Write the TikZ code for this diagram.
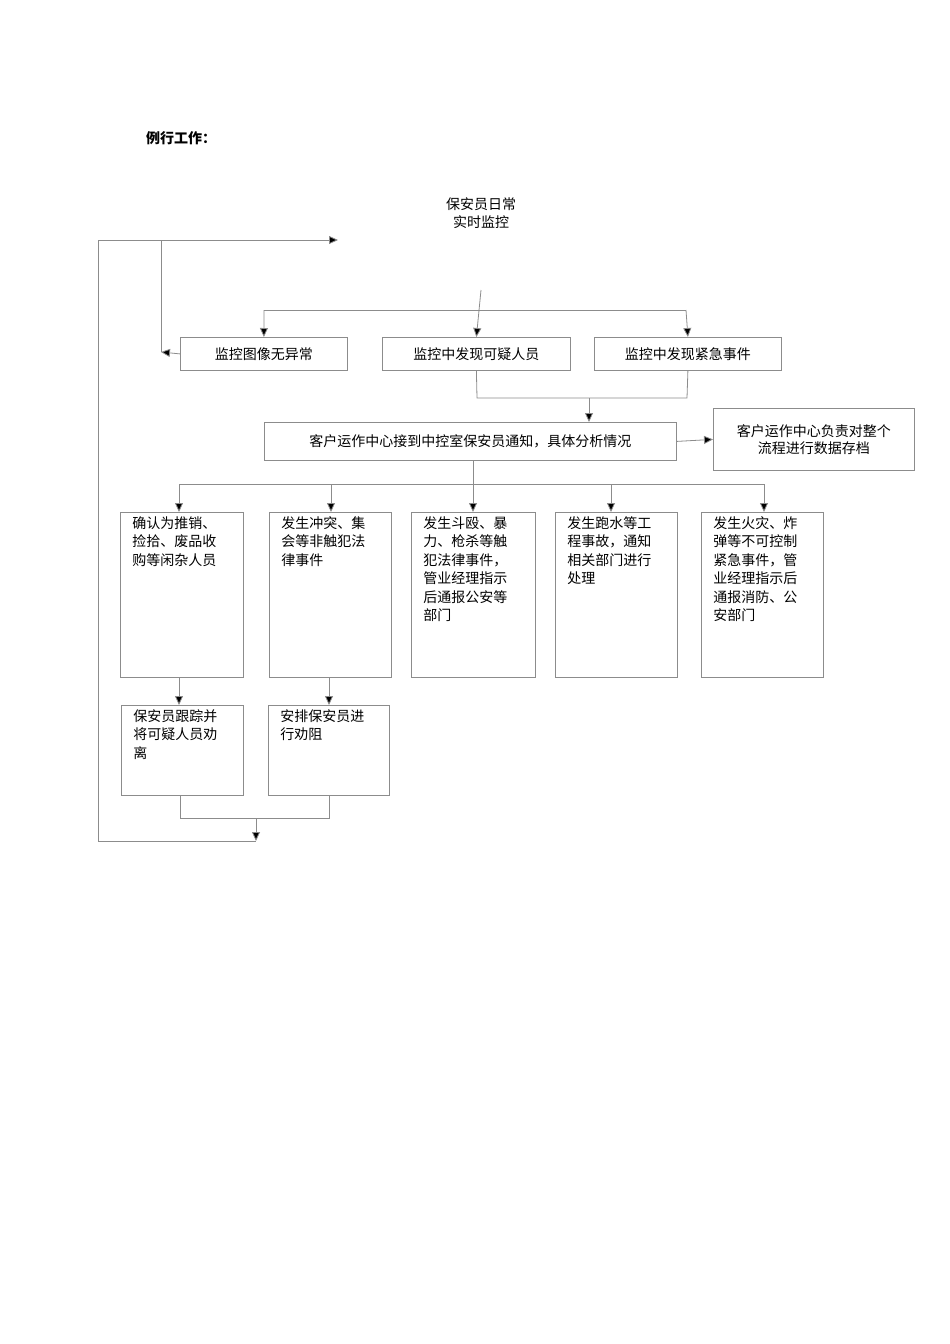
\documentclass[tikz,border=0pt]{standalone}
\usepackage{fontspec}
\setmainfont{Noto Sans CJK SC}
\usetikzlibrary{arrows.meta}
\newcommand\cellbox[3]{\parbox[c][#2][t]{#1}{\vspace{4pt}\fontsize{14}{18.5}\selectfont #3}}
\tikzset{
  x=1pt,y=-1pt,
  ln/.style={draw=black!45,line width=0.8pt},
  ar/.style={ln,-{Triangle[length=9pt,width=8pt,fill=black]}},
  bx/.style={draw=black!45,line width=0.8pt,anchor=north west,inner xsep=12pt,inner ysep=0pt,align=left},
  sb/.style={draw=black!45,line width=0.8pt,anchor=north west,inner sep=0pt,font=\fontsize{14}{17}\selectfont}
}
\begin{document}
\begin{tikzpicture}
\useasboundingbox (0,0) rectangle (950,1344);
\node[font=\bfseries\fontsize{14}{17}\selectfont] (title) at (181,138) {例行工作：};
\node[align=center,font=\fontsize{14}{18}\selectfont] (top) at (481,213) {保安员日常\\实时监控};
% row 1
\node[sb,minimum width=167pt,minimum height=33pt] (b1) at (180,337) {监控图像无异常};
\node[sb,minimum width=188pt,minimum height=33pt] (b2) at (382,337) {监控中发现可疑人员};
\node[sb,minimum width=187pt,minimum height=33pt] (b3) at (594,337) {监控中发现紧急事件};
\node[sb,minimum width=412pt,minimum height=38pt] (b4) at (264,422) {客户运作中心接到中控室保安员通知，具体分析情况};
\node[sb,minimum width=201pt,minimum height=62pt,align=center] (b5) at (713,408) {客户运作中心负责对整个\\流程进行数据存档};
% row 3
\node[bx] (ca) at (120,512) {\cellbox{99pt}{165pt}{确认为推销、\\捡拾、废品收\\购等闲杂人员}};
\node[bx] (cb) at (269,512) {\cellbox{98pt}{165pt}{发生冲突、集\\会等非触犯法\\律事件}};
\node[bx] (cc) at (411,512) {\cellbox{100pt}{165pt}{发生斗殴、暴\\力、枪杀等触\\犯法律事件，\\管业经理指示\\后通报公安等\\部门}};
\node[bx] (cd) at (555,512) {\cellbox{98pt}{165pt}{发生跑水等工\\程事故，通知\\相关部门进行\\处理}};
\node[bx] (ce) at (701,512) {\cellbox{98pt}{165pt}{发生火灾、炸\\弹等不可控制\\紧急事件，管\\业经理指示后\\通报消防、公\\安部门}};
% row 4
\node[bx] (cf) at (121,705) {\cellbox{98pt}{90pt}{保安员跟踪并\\将可疑人员劝\\离}};
\node[bx] (cg) at (268,705) {\cellbox{97pt}{90pt}{安排保安员进\\行劝阻}};
% coordinates
\coordinate (tt) at (481,290);
\coordinate (loopR) at (338,240);
\coordinate (loopL) at (98,240);
\coordinate (loopB) at (98,841);
\coordinate (joinB) at (256,841);
% top distribution
\draw[ar] (tt) -- (b2.north);
\draw[ln] (264,310) -- (686,310);
\draw[ar] (264,310) -- (b1.north);
\draw[ar] (686,310) -- (b3.north);
% loop
\draw[ar] (loopB) -- (loopL) -- (loopR);
\draw[ln] (161,240) -- (161,352);
\draw[ar] (b1.west) -- (161,352);
% merge to b4
\draw[ln] (b2.south) -- (477,398) -- (687,398) -- (b3.south);
\draw[ar] (589,398) -- (589,422);
\draw[ar] (b4.east) -- (b5.west);
% fan out
\draw[ln] (473,460) -- (473,484);
\draw[ln] (179,484) -- (764,484);
\foreach \x in {179,331,473,611,764} \draw[ar] (\x,484) -- (\x,512);
\draw[ar] (179,677) -- (179,705);
\draw[ar] (329,677) -- (329,705);
% merge bottom
\draw[ln] (180,795) -- (180,818) -- (329,818) -- (329,795);
\draw[ln] (loopB) -- (joinB);
\draw[ar] (256,818) -- (joinB);
\end{tikzpicture}
\end{document}
